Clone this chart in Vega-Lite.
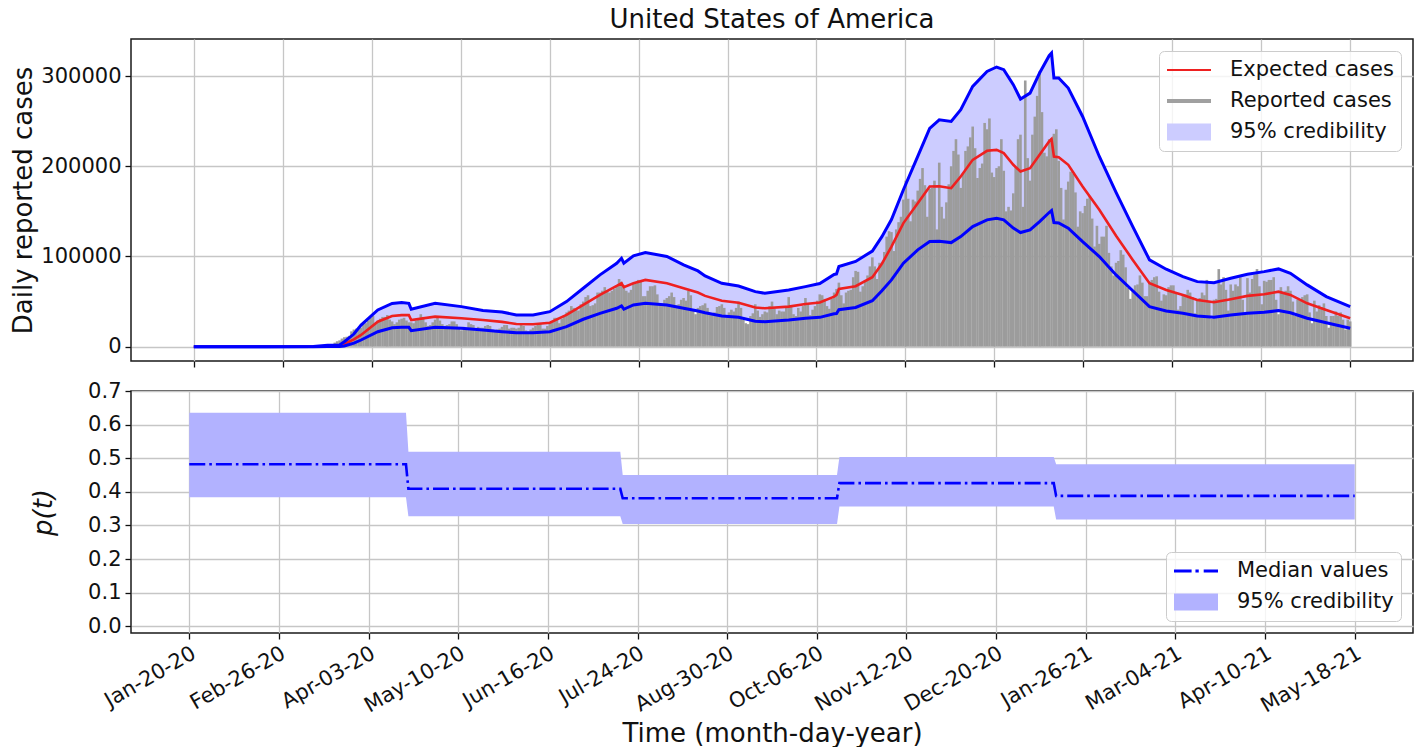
{
"$schema": "https://vega.github.io/schema/vega-lite/v6.json",
"background": "white",
"padding": {"left": 10, "top": 6, "right": 3, "bottom": 0},
"config": {
  "font": "DejaVu Sans",
  "view": {"stroke": "#1a1a1a", "strokeWidth": 1.5},
  "axis": {"labelOverlap": false},
  "title": {"font": "DejaVu Sans", "fontSize": 26, "fontWeight": "normal", "color": "#111111"}
},
"resolve": {"scale": {"color": "independent", "shape": "independent"}},
"spacing": 10,
"datasets": {
"curves": [
{"t":"2020-01-20","lo":0,"e":0,"hi":0},
{"t":"2020-02-19","lo":0,"e":0,"hi":0},
{"t":"2020-03-10","lo":0,"e":0,"hi":200},
{"t":"2020-03-16","lo":100,"e":300,"hi":1500},
{"t":"2020-03-21","lo":300,"e":1000,"hi":2000},
{"t":"2020-03-23","lo":800,"e":3000,"hi":5500},
{"t":"2020-03-27","lo":4000,"e":8000,"hi":14000},
{"t":"2020-03-30","lo":7400,"e":13000,"hi":24000},
{"t":"2020-04-06","lo":16600,"e":27700,"hi":40700},
{"t":"2020-04-12","lo":21000,"e":34000,"hi":48000},
{"t":"2020-04-16","lo":21500,"e":35000,"hi":49000},
{"t":"2020-04-19","lo":21500,"e":35000,"hi":48000},
{"t":"2020-04-20","lo":17800,"e":29600,"hi":41500},
{"t":"2020-04-30","lo":21500,"e":33300,"hi":48000},
{"t":"2020-05-11","lo":20400,"e":31500,"hi":44400},
{"t":"2020-05-20","lo":18500,"e":29600,"hi":40000},
{"t":"2020-05-28","lo":16600,"e":27500,"hi":38500},
{"t":"2020-06-03","lo":15500,"e":25200,"hi":35200},
{"t":"2020-06-10","lo":15500,"e":24800,"hi":35200},
{"t":"2020-06-17","lo":16600,"e":26600,"hi":38800},
{"t":"2020-06-24","lo":22200,"e":35200,"hi":50000},
{"t":"2020-07-01","lo":30400,"e":46300,"hi":64800},
{"t":"2020-07-08","lo":37000,"e":57400,"hi":79600},
{"t":"2020-07-15","lo":42600,"e":67300,"hi":92500},
{"t":"2020-07-17","lo":45200,"e":70300,"hi":98000},
{"t":"2020-07-18","lo":41500,"e":65900,"hi":92500},
{"t":"2020-07-22","lo":46300,"e":70300,"hi":100600},
{"t":"2020-07-27","lo":48100,"e":74000,"hi":104300},
{"t":"2020-08-05","lo":46300,"e":70300,"hi":100000},
{"t":"2020-08-12","lo":42600,"e":64800,"hi":90600},
{"t":"2020-08-18","lo":39500,"e":60000,"hi":84000},
{"t":"2020-08-21","lo":37700,"e":56300,"hi":78400},
{"t":"2020-08-28","lo":34100,"e":51000,"hi":70300},
{"t":"2020-09-04","lo":32600,"e":48800,"hi":67300},
{"t":"2020-09-11","lo":28300,"e":43500,"hi":61000},
{"t":"2020-09-15","lo":27700,"e":42600,"hi":59200},
{"t":"2020-09-25","lo":29600,"e":44400,"hi":62900},
{"t":"2020-10-02","lo":31500,"e":47400,"hi":66600},
{"t":"2020-10-08","lo":32500,"e":49000,"hi":70000},
{"t":"2020-10-14","lo":36500,"e":55500,"hi":80000},
{"t":"2020-10-15","lo":36800,"e":57400,"hi":80500},
{"t":"2020-10-16","lo":41000,"e":64000,"hi":88800},
{"t":"2020-10-23","lo":43500,"e":67000,"hi":94500},
{"t":"2020-10-30","lo":51000,"e":77000,"hi":106000},
{"t":"2020-11-03","lo":62000,"e":92000,"hi":122000},
{"t":"2020-11-07","lo":74000,"e":111000,"hi":141000},
{"t":"2020-11-12","lo":92500,"e":137000,"hi":174000},
{"t":"2020-11-18","lo":107300,"e":159000,"hi":211000},
{"t":"2020-11-23","lo":116500,"e":177500,"hi":242000},
{"t":"2020-11-27","lo":116900,"e":177800,"hi":251500},
{"t":"2020-12-02","lo":115400,"e":175700,"hi":249600},
{"t":"2020-12-06","lo":122000,"e":188600,"hi":262600},
{"t":"2020-12-11","lo":133100,"e":207100,"hi":288500},
{"t":"2020-12-17","lo":140600,"e":217100,"hi":305100},
{"t":"2020-12-21","lo":142400,"e":218200,"hi":310000},
{"t":"2020-12-24","lo":140600,"e":214600,"hi":307000},
{"t":"2020-12-28","lo":131400,"e":201600,"hi":290400},
{"t":"2020-12-31","lo":126500,"e":194200,"hi":274500},
{"t":"2021-01-04","lo":129500,"e":197900,"hi":281100},
{"t":"2021-01-08","lo":138700,"e":212700,"hi":303300},
{"t":"2021-01-12","lo":148700,"e":227500,"hi":322500},
{"t":"2021-01-13","lo":150900,"e":230100,"hi":325500},
{"t":"2021-01-14","lo":137600,"e":210800,"hi":297800},
{"t":"2021-01-16","lo":137200,"e":210000,"hi":297800},
{"t":"2021-01-20","lo":131400,"e":201600,"hi":286700},
{"t":"2021-01-26","lo":116500,"e":177500,"hi":255200},
{"t":"2021-02-02","lo":99900,"e":151700,"hi":210800},
{"t":"2021-02-09","lo":79500,"e":123000,"hi":171000},
{"t":"2021-02-16","lo":62000,"e":96200,"hi":133100},
{"t":"2021-02-23","lo":44400,"e":70300,"hi":96200},
{"t":"2021-03-02","lo":39600,"e":62900,"hi":85900},
{"t":"2021-03-09","lo":37000,"e":57400,"hi":77700},
{"t":"2021-03-15","lo":34100,"e":51800,"hi":72100},
{"t":"2021-03-22","lo":32600,"e":49300,"hi":71000},
{"t":"2021-03-29","lo":35200,"e":52600,"hi":75900},
{"t":"2021-04-05","lo":37000,"e":56300,"hi":80300},
{"t":"2021-04-12","lo":38100,"e":58100,"hi":83200},
{"t":"2021-04-18","lo":40000,"e":61000,"hi":86200},
{"t":"2021-04-23","lo":37600,"e":57400,"hi":81400},
{"t":"2021-04-30","lo":31500,"e":48100,"hi":68500},
{"t":"2021-05-08","lo":26600,"e":40700,"hi":55500},
{"t":"2021-05-18","lo":20400,"e":31500,"hi":44400}
],
"p": [
{"t":"2020-01-20","m":0.482,"lo":0.384,"hi":0.635},
{"t":"2020-04-19","m":0.482,"lo":0.384,"hi":0.635},
{"t":"2020-04-20","m":0.409,"lo":0.327,"hi":0.519},
{"t":"2020-07-17","m":0.409,"lo":0.327,"hi":0.519},
{"t":"2020-07-18","m":0.381,"lo":0.304,"hi":0.450},
{"t":"2020-10-15","m":0.381,"lo":0.304,"hi":0.450},
{"t":"2020-10-16","m":0.426,"lo":0.356,"hi":0.504},
{"t":"2021-01-13","m":0.426,"lo":0.356,"hi":0.504},
{"t":"2021-01-14","m":0.388,"lo":0.318,"hi":0.482},
{"t":"2021-05-18","m":0.388,"lo":0.318,"hi":0.482}
],
"bars": [
{"t":"2020-03-02","c":20},{"t":"2020-03-03","c":30},{"t":"2020-03-04","c":40},{"t":"2020-03-05","c":70},{"t":"2020-03-06","c":80},{"t":"2020-03-07","c":110},{"t":"2020-03-08","c":130},
{"t":"2020-03-09","c":200},{"t":"2020-03-10","c":300},{"t":"2020-03-11","c":400},{"t":"2020-03-12","c":500},{"t":"2020-03-13","c":650},{"t":"2020-03-14","c":750},{"t":"2020-03-15","c":900},
{"t":"2020-03-16","c":1500},{"t":"2020-03-17","c":1800},{"t":"2020-03-18","c":3000},{"t":"2020-03-19","c":4500},{"t":"2020-03-20","c":6000},{"t":"2020-03-21","c":7000},{"t":"2020-03-22","c":9000},
{"t":"2020-03-23","c":10500},{"t":"2020-03-24","c":11000},{"t":"2020-03-25","c":12000},{"t":"2020-03-26","c":17000},{"t":"2020-03-27","c":19000},{"t":"2020-03-28","c":20000},{"t":"2020-03-29","c":19500},
{"t":"2020-03-30","c":21000},{"t":"2020-03-31","c":25000},{"t":"2020-04-01","c":26000},{"t":"2020-04-02","c":29000},{"t":"2020-04-03","c":32000},{"t":"2020-04-04","c":34000},{"t":"2020-04-05","c":26000},
{"t":"2020-04-06","c":29000},{"t":"2020-04-07","c":31000},{"t":"2020-04-08","c":33000},{"t":"2020-04-09","c":33000},{"t":"2020-04-10","c":35000},{"t":"2020-04-11","c":30000},{"t":"2020-04-12","c":28000},
{"t":"2020-04-13","c":25000},{"t":"2020-04-14","c":27000},{"t":"2020-04-15","c":30000},{"t":"2020-04-16","c":31000},{"t":"2020-04-17","c":32000},{"t":"2020-04-18","c":29000},{"t":"2020-04-19","c":27000},
{"t":"2020-04-20","c":27000},{"t":"2020-04-21","c":26000},{"t":"2020-04-22","c":29000},{"t":"2020-04-23","c":31000},{"t":"2020-04-24","c":36000},{"t":"2020-04-25","c":33000},{"t":"2020-04-26","c":27000},
{"t":"2020-04-27","c":23000},{"t":"2020-04-28","c":24000},{"t":"2020-04-29","c":27000},{"t":"2020-04-30","c":30000},{"t":"2020-05-01","c":34000},{"t":"2020-05-02","c":29000},{"t":"2020-05-03","c":25000},
{"t":"2020-05-04","c":23000},{"t":"2020-05-05","c":24000},{"t":"2020-05-06","c":25000},{"t":"2020-05-07","c":28000},{"t":"2020-05-08","c":28000},{"t":"2020-05-09","c":25000},{"t":"2020-05-10","c":20000},
{"t":"2020-05-11","c":18000},{"t":"2020-05-12","c":22000},{"t":"2020-05-13","c":21000},{"t":"2020-05-14","c":27000},{"t":"2020-05-15","c":25000},{"t":"2020-05-16","c":24000},{"t":"2020-05-17","c":18000},
{"t":"2020-05-18","c":22000},{"t":"2020-05-19","c":21000},{"t":"2020-05-20","c":21000},{"t":"2020-05-21","c":23000},{"t":"2020-05-22","c":24000},{"t":"2020-05-23","c":23000},{"t":"2020-05-24","c":19000},
{"t":"2020-05-25","c":18000},{"t":"2020-05-26","c":19000},{"t":"2020-05-27","c":20000},{"t":"2020-05-28","c":22000},{"t":"2020-05-29","c":24000},{"t":"2020-05-30","c":24000},{"t":"2020-05-31","c":20000},
{"t":"2020-06-01","c":21000},{"t":"2020-06-02","c":21000},{"t":"2020-06-03","c":20000},{"t":"2020-06-04","c":21000},{"t":"2020-06-05","c":25000},{"t":"2020-06-06","c":23000},{"t":"2020-06-07","c":18000},
{"t":"2020-06-08","c":17000},{"t":"2020-06-09","c":19000},{"t":"2020-06-10","c":21000},{"t":"2020-06-11","c":23000},{"t":"2020-06-12","c":25000},{"t":"2020-06-13","c":25000},{"t":"2020-06-14","c":20000},
{"t":"2020-06-15","c":20000},{"t":"2020-06-16","c":23000},{"t":"2020-06-17","c":26000},{"t":"2020-06-18","c":28000},{"t":"2020-06-19","c":32000},{"t":"2020-06-20","c":32000},{"t":"2020-06-21","c":26000},
{"t":"2020-06-22","c":31000},{"t":"2020-06-23","c":35000},{"t":"2020-06-24","c":38000},{"t":"2020-06-25","c":40000},{"t":"2020-06-26","c":45000},{"t":"2020-06-27","c":43000},{"t":"2020-06-28","c":41000},
{"t":"2020-06-29","c":40000},{"t":"2020-06-30","c":47000},{"t":"2020-07-01","c":50000},{"t":"2020-07-02","c":55000},{"t":"2020-07-03","c":57000},{"t":"2020-07-04","c":45000},{"t":"2020-07-05","c":46000},
{"t":"2020-07-06","c":48000},{"t":"2020-07-07","c":60000},{"t":"2020-07-08","c":60000},{"t":"2020-07-09","c":62000},{"t":"2020-07-10","c":66000},{"t":"2020-07-11","c":62000},{"t":"2020-07-12","c":60000},
{"t":"2020-07-13","c":62000},{"t":"2020-07-14","c":64000},{"t":"2020-07-15","c":67000},{"t":"2020-07-16","c":75000},{"t":"2020-07-17","c":72000},{"t":"2020-07-18","c":65000},{"t":"2020-07-19","c":62000},
{"t":"2020-07-20","c":60000},{"t":"2020-07-21","c":63000},{"t":"2020-07-22","c":70000},{"t":"2020-07-23","c":70000},{"t":"2020-07-24","c":74000},{"t":"2020-07-25","c":72000},{"t":"2020-07-26","c":56000},
{"t":"2020-07-27","c":56000},{"t":"2020-07-28","c":62000},{"t":"2020-07-29","c":67000},{"t":"2020-07-30","c":67000},{"t":"2020-07-31","c":68000},{"t":"2020-08-01","c":58000},{"t":"2020-08-02","c":47000},
{"t":"2020-08-03","c":45000},{"t":"2020-08-04","c":52000},{"t":"2020-08-05","c":54000},{"t":"2020-08-06","c":56000},{"t":"2020-08-07","c":60000},{"t":"2020-08-08","c":55000},{"t":"2020-08-09","c":46000},
{"t":"2020-08-10","c":47000},{"t":"2020-08-11","c":52000},{"t":"2020-08-12","c":54000},{"t":"2020-08-13","c":51000},{"t":"2020-08-14","c":62000},{"t":"2020-08-15","c":57000},{"t":"2020-08-16","c":41000},
{"t":"2020-08-17","c":36000},{"t":"2020-08-18","c":43000},{"t":"2020-08-19","c":45000},{"t":"2020-08-20","c":46000},{"t":"2020-08-21","c":48000},{"t":"2020-08-22","c":43000},{"t":"2020-08-23","c":35000},
{"t":"2020-08-24","c":35000},{"t":"2020-08-25","c":38000},{"t":"2020-08-26","c":44000},{"t":"2020-08-27","c":45000},{"t":"2020-08-28","c":47000},{"t":"2020-08-29","c":43000},{"t":"2020-08-30","c":33000},
{"t":"2020-08-31","c":38000},{"t":"2020-09-01","c":41000},{"t":"2020-09-02","c":39000},{"t":"2020-09-03","c":43000},{"t":"2020-09-04","c":50000},{"t":"2020-09-05","c":43000},{"t":"2020-09-06","c":30000},
{"t":"2020-09-07","c":26000},{"t":"2020-09-08","c":25000},{"t":"2020-09-09","c":34000},{"t":"2020-09-10","c":37000},{"t":"2020-09-11","c":47000},{"t":"2020-09-12","c":40000},{"t":"2020-09-13","c":33000},
{"t":"2020-09-14","c":36000},{"t":"2020-09-15","c":39000},{"t":"2020-09-16","c":38000},{"t":"2020-09-17","c":45000},{"t":"2020-09-18","c":50000},{"t":"2020-09-19","c":42000},{"t":"2020-09-20","c":36000},
{"t":"2020-09-21","c":40000},{"t":"2020-09-22","c":39000},{"t":"2020-09-23","c":39000},{"t":"2020-09-24","c":44000},{"t":"2020-09-25","c":55000},{"t":"2020-09-26","c":45000},{"t":"2020-09-27","c":36000},
{"t":"2020-09-28","c":34000},{"t":"2020-09-29","c":43000},{"t":"2020-09-30","c":39000},{"t":"2020-10-01","c":45000},{"t":"2020-10-02","c":54000},{"t":"2020-10-03","c":48000},{"t":"2020-10-04","c":35000},
{"t":"2020-10-05","c":41000},{"t":"2020-10-06","c":45000},{"t":"2020-10-07","c":51000},{"t":"2020-10-08","c":58000},{"t":"2020-10-09","c":57000},{"t":"2020-10-10","c":53000},{"t":"2020-10-11","c":45000},
{"t":"2020-10-12","c":42000},{"t":"2020-10-13","c":53000},{"t":"2020-10-14","c":60000},{"t":"2020-10-15","c":64000},{"t":"2020-10-16","c":71000},{"t":"2020-10-17","c":57000},{"t":"2020-10-18","c":48000},
{"t":"2020-10-19","c":60000},{"t":"2020-10-20","c":62000},{"t":"2020-10-21","c":63000},{"t":"2020-10-22","c":77000},{"t":"2020-10-23","c":84000},{"t":"2020-10-24","c":83000},{"t":"2020-10-25","c":61000},
{"t":"2020-10-26","c":67000},{"t":"2020-10-27","c":74000},{"t":"2020-10-28","c":79000},{"t":"2020-10-29","c":89000},{"t":"2020-10-30","c":99000},{"t":"2020-10-31","c":89000},{"t":"2020-11-01","c":75000},
{"t":"2020-11-02","c":93000},{"t":"2020-11-03","c":91000},{"t":"2020-11-04","c":105000},{"t":"2020-11-05","c":122000},{"t":"2020-11-06","c":128000},{"t":"2020-11-07","c":127000},{"t":"2020-11-08","c":106000},
{"t":"2020-11-09","c":130000},{"t":"2020-11-10","c":138000},{"t":"2020-11-11","c":144000},{"t":"2020-11-12","c":163000},{"t":"2020-11-13","c":184000},{"t":"2020-11-14","c":164000},{"t":"2020-11-15","c":139000},
{"t":"2020-11-16","c":163000},{"t":"2020-11-17","c":161000},{"t":"2020-11-18","c":173000},{"t":"2020-11-19","c":186000},{"t":"2020-11-20","c":198000},{"t":"2020-11-21","c":179000},{"t":"2020-11-22","c":144000},
{"t":"2020-11-23","c":175000},{"t":"2020-11-24","c":176000},{"t":"2020-11-25","c":184000},{"t":"2020-11-26","c":130000},{"t":"2020-11-27","c":204000},{"t":"2020-11-28","c":155000},{"t":"2020-11-29","c":142000},
{"t":"2020-11-30","c":160000},{"t":"2020-12-01","c":180000},{"t":"2020-12-02","c":200000},{"t":"2020-12-03","c":217000},{"t":"2020-12-04","c":230000},{"t":"2020-12-05","c":213000},{"t":"2020-12-06","c":176000},
{"t":"2020-12-07","c":192000},{"t":"2020-12-08","c":217000},{"t":"2020-12-09","c":222000},{"t":"2020-12-10","c":232000},{"t":"2020-12-11","c":244000},{"t":"2020-12-12","c":220000},{"t":"2020-12-13","c":187000},
{"t":"2020-12-14","c":198000},{"t":"2020-12-15","c":203000},{"t":"2020-12-16","c":248000},{"t":"2020-12-17","c":241000},{"t":"2020-12-18","c":253000},{"t":"2020-12-19","c":193000},{"t":"2020-12-20","c":188000},
{"t":"2020-12-21","c":198000},{"t":"2020-12-22","c":200000},{"t":"2020-12-23","c":230000},{"t":"2020-12-24","c":195000},{"t":"2020-12-25","c":150000},{"t":"2020-12-26","c":155000},{"t":"2020-12-27","c":151000},
{"t":"2020-12-28","c":170000},{"t":"2020-12-29","c":199000},{"t":"2020-12-30","c":230000},{"t":"2020-12-31","c":235000},{"t":"2021-01-01","c":155000},{"t":"2021-01-02","c":295000},{"t":"2021-01-03","c":209000},
{"t":"2021-01-04","c":184000},{"t":"2021-01-05","c":235000},{"t":"2021-01-06","c":255000},{"t":"2021-01-07","c":278000},{"t":"2021-01-08","c":305000},{"t":"2021-01-09","c":260000},{"t":"2021-01-10","c":215000},
{"t":"2021-01-11","c":211000},{"t":"2021-01-12","c":230000},{"t":"2021-01-13","c":231000},{"t":"2021-01-14","c":236000},{"t":"2021-01-15","c":241000},{"t":"2021-01-16","c":206000},{"t":"2021-01-17","c":176000},
{"t":"2021-01-18","c":141000},{"t":"2021-01-19","c":174000},{"t":"2021-01-20","c":183000},{"t":"2021-01-21","c":194000},{"t":"2021-01-22","c":192000},{"t":"2021-01-23","c":171000},{"t":"2021-01-24","c":133000},
{"t":"2021-01-25","c":150000},{"t":"2021-01-26","c":148000},{"t":"2021-01-27","c":156000},{"t":"2021-01-28","c":164000},{"t":"2021-01-29","c":167000},{"t":"2021-01-30","c":142000},{"t":"2021-01-31","c":111000},
{"t":"2021-02-01","c":134000},{"t":"2021-02-02","c":114000},{"t":"2021-02-03","c":122000},{"t":"2021-02-04","c":122000},{"t":"2021-02-05","c":134000},{"t":"2021-02-06","c":104000},{"t":"2021-02-07","c":89000},
{"t":"2021-02-08","c":79000},{"t":"2021-02-09","c":93000},{"t":"2021-02-10","c":95000},{"t":"2021-02-11","c":107000},{"t":"2021-02-12","c":102000},{"t":"2021-02-13","c":88000},{"t":"2021-02-14","c":65000},
{"t":"2021-02-15","c":53000},{"t":"2021-02-16","c":62000},{"t":"2021-02-17","c":68000},{"t":"2021-02-18","c":69000},{"t":"2021-02-19","c":79000},{"t":"2021-02-20","c":71000},{"t":"2021-02-21","c":56000},
{"t":"2021-02-22","c":56000},{"t":"2021-02-23","c":72000},{"t":"2021-02-24","c":74000},{"t":"2021-02-25","c":77000},{"t":"2021-02-26","c":78000},{"t":"2021-02-27","c":61000},{"t":"2021-02-28","c":51000},
{"t":"2021-03-01","c":58000},{"t":"2021-03-02","c":57000},{"t":"2021-03-03","c":66000},{"t":"2021-03-04","c":68000},{"t":"2021-03-05","c":68000},{"t":"2021-03-06","c":59000},{"t":"2021-03-07","c":41000},
{"t":"2021-03-08","c":45000},{"t":"2021-03-09","c":57000},{"t":"2021-03-10","c":58000},{"t":"2021-03-11","c":63000},{"t":"2021-03-12","c":60000},{"t":"2021-03-13","c":55000},{"t":"2021-03-14","c":37000},
{"t":"2021-03-15","c":53000},{"t":"2021-03-16","c":54000},{"t":"2021-03-17","c":60000},{"t":"2021-03-18","c":57000},{"t":"2021-03-19","c":74000},{"t":"2021-03-20","c":50000},{"t":"2021-03-21","c":31000},
{"t":"2021-03-22","c":52000},{"t":"2021-03-23","c":53000},{"t":"2021-03-24","c":86000},{"t":"2021-03-25","c":69000},{"t":"2021-03-26","c":77000},{"t":"2021-03-27","c":63000},{"t":"2021-03-28","c":40000},
{"t":"2021-03-29","c":69000},{"t":"2021-03-30","c":62000},{"t":"2021-03-31","c":69000},{"t":"2021-04-01","c":67000},{"t":"2021-04-02","c":77000},{"t":"2021-04-03","c":52000},{"t":"2021-04-04","c":36000},
{"t":"2021-04-05","c":76000},{"t":"2021-04-06","c":60000},{"t":"2021-04-07","c":75000},{"t":"2021-04-08","c":80000},{"t":"2021-04-09","c":86000},{"t":"2021-04-10","c":67000},{"t":"2021-04-11","c":47000},
{"t":"2021-04-12","c":73000},{"t":"2021-04-13","c":72000},{"t":"2021-04-14","c":74000},{"t":"2021-04-15","c":74000},{"t":"2021-04-16","c":77000},{"t":"2021-04-17","c":52000},{"t":"2021-04-18","c":36000},
{"t":"2021-04-19","c":66000},{"t":"2021-04-20","c":61000},{"t":"2021-04-21","c":62000},{"t":"2021-04-22","c":67000},{"t":"2021-04-23","c":62000},{"t":"2021-04-24","c":50000},{"t":"2021-04-25","c":34000},
{"t":"2021-04-26","c":52000},{"t":"2021-04-27","c":51000},{"t":"2021-04-28","c":55000},{"t":"2021-04-29","c":57000},{"t":"2021-04-30","c":58000},{"t":"2021-05-01","c":38000},{"t":"2021-05-02","c":26000},
{"t":"2021-05-03","c":51000},{"t":"2021-05-04","c":39000},{"t":"2021-05-05","c":46000},{"t":"2021-05-06","c":44000},{"t":"2021-05-07","c":48000},{"t":"2021-05-08","c":34000},{"t":"2021-05-09","c":21000},
{"t":"2021-05-10","c":34000},{"t":"2021-05-11","c":34000},{"t":"2021-05-12","c":39000},{"t":"2021-05-13","c":34000},{"t":"2021-05-14","c":38000},{"t":"2021-05-15","c":30000},{"t":"2021-05-16","c":19000},
{"t":"2021-05-17","c":30000},{"t":"2021-05-18","c":28000}
]
},
"vconcat": [
{
  "width": 1282, "height": 322,
  "title": {"text": "United States of America", "frame": "group", "anchor": "middle", "offset": 6},
  "layer": [
    {"data": {"name": "curves"}, "mark": {"type": "area", "opacity": 1, "color": "#ccccff"},
     "encoding": {
       "x": {"field": "t", "type": "temporal", "scale": {"type": "utc", "domain": [1577387520000, 1623386880000]},
             "axis": {"values": [1579478400000,1582695138462,1585911876923,1589128615385,1592345353846,1595562092308,1598778830769,1601995569231,1605212307692,1608429046154,1611645784615,1614862523077,1618079261538,1621296000000], "labels": false, "title": null, "grid": true, "gridColor": "#c6c6c6", "gridWidth": 1.3, "domain": false, "ticks": true, "tickSize": 6, "tickWidth": 1.3, "tickColor": "#111111"}},
       "y": {"field": "lo", "type": "quantitative", "scale": {"domain": [-15865, 341050], "nice": false, "zero": false},
             "axis": {"values": [0, 100000, 200000, 300000], "format": "d", "labelFontSize": 21, "labelFont": "DejaVu Sans", "labelColor": "#111111", "labelOverlap": false, "labelPadding": 4, "domain": false, "tickSize": 6, "tickWidth": 1.3, "tickColor": "#111111", "gridColor": "#c6c6c6", "gridWidth": 1.3,
               "title": "Daily reported cases", "titleFont": "DejaVu Sans", "titleFontSize": 26, "titleFontWeight": "normal", "titleColor": "#111111", "titlePadding": 4, "grid": true}},
       "y2": {"field": "hi"}
     }},
    {"data": {"name": "bars"}, "mark": {"type": "bar", "size": 2.6, "opacity": 1, "color": "#9c9c9c"},
     "encoding": {"x": {"field": "t", "type": "temporal"}, "y": {"field": "c", "type": "quantitative"}}},
    {"data": {"name": "curves"}, "mark": {"type": "line", "strokeWidth": 2.6, "color": "#ee2020"},
     "encoding": {"x": {"field": "t", "type": "temporal"}, "y": {"field": "e", "type": "quantitative"}}},
    {"data": {"name": "curves"}, "mark": {"type": "line", "strokeWidth": 3, "color": "#0000ff"},
     "encoding": {"x": {"field": "t", "type": "temporal"}, "y": {"field": "hi", "type": "quantitative"}}},
    {"data": {"name": "curves"}, "mark": {"type": "line", "strokeWidth": 3, "color": "#0000ff"},
     "encoding": {"x": {"field": "t", "type": "temporal"}, "y": {"field": "lo", "type": "quantitative"}}},
    {"data": {"name": "curves"}, "mark": {"type": "point", "filled": true, "opacity": 0},
     "encoding": {"x": {"field": "t", "type": "temporal"}, "y": {"field": "e", "type": "quantitative"},
       "color": {"datum": "95% credibility", "type": "nominal",
         "scale": {"domain": ["Expected cases", "Reported cases", "95% credibility"], "range": ["#ee2020", "#a0a0a0", "#ccccff"]},
         "legend": {"title": null, "orient": "top-right", "offset": 12, "symbolSize": 484, "symbolOpacity": 1, "labelOffset": 40, "rowPadding": 9, "padding": 7,
           "labelFontSize": 21, "labelFont": "DejaVu Sans", "labelColor": "#111111", "labelLimit": 400,
           "fillColor": "rgba(255,255,255,0.8)", "strokeColor": "#cccccc", "cornerRadius": 5}},
       "shape": {"datum": "95% credibility", "type": "nominal",
         "scale": {"domain": ["Expected cases", "Reported cases", "95% credibility"], "range": ["M-1,-0.1H3V0.1H-1Z", "M-1,-0.19H3V0.19H-1Z", "M-1,-0.77H3V0.77H-1Z"]},
         "legend": {"title": null, "orient": "top-right", "offset": 12, "symbolSize": 484, "symbolOpacity": 1, "labelOffset": 40, "rowPadding": 9, "padding": 7,
           "labelFontSize": 21, "labelFont": "DejaVu Sans", "labelColor": "#111111", "labelLimit": 400,
           "fillColor": "rgba(255,255,255,0.8)", "strokeColor": "#cccccc", "cornerRadius": 5}}
     }}
  ]
},
{
  "width": 1282, "height": 242,
  "layer": [
    {"data": {"name": "p"}, "mark": {"type": "area", "opacity": 1, "color": "#b2b2ff"},
     "encoding": {
       "x": {"field": "t", "type": "temporal", "scale": {"type": "utc", "domain": [1577387520000, 1623386880000]},
             "axis": {"values": [1579478400000,1582695138462,1585911876923,1589128615385,1592345353846,1595562092308,1598778830769,1601995569231,1605212307692,1608429046154,1611645784615,1614862523077,1618079261538,1621296000000],
               "labelExpr": "utcFormat(datum.value, '%b-%d-%y')", "labelFontSize": 21, "labelFont": "DejaVu Sans", "labelColor": "#111111", "labelAngle": -30, "labelAlign": "right", "labelBaseline": "top", "labelOverlap": false, "labelFlush": false, "labelPadding": 3, "labelOffset": -1,
               "domain": false, "tickSize": 6, "tickWidth": 1.3, "tickColor": "#111111", "gridColor": "#c6c6c6", "gridWidth": 1.3,
               "title": "Time (month-day-year)", "titleFont": "DejaVu Sans", "titleFontSize": 26, "titleFontWeight": "normal", "titleColor": "#111111", "titlePadding": 4, "grid": true}},
       "y": {"field": "lo", "type": "quantitative", "scale": {"domain": [-0.02, 0.7], "nice": false, "zero": false},
             "axis": {"tickCount": 8, "labelExpr": "format(abs(datum.value), '.1f')", "labelFontSize": 21, "labelFont": "DejaVu Sans", "labelColor": "#111111", "labelOverlap": false, "labelSeparation": 0, "labelPadding": 4,
               "domain": false, "tickSize": 6, "tickWidth": 1.3, "tickColor": "#111111", "gridColor": "#c6c6c6", "gridWidth": 1.3,
               "title": "p(t)", "titleFont": "DejaVu Sans", "titleFontSize": 26, "titleFontWeight": "normal", "titleColor": "#111111", "titleFontStyle": "italic", "titlePadding": 31, "grid": true}},
       "y2": {"field": "hi"}
     }},
    {"data": {"name": "p"}, "mark": {"type": "line", "strokeWidth": 2.6, "strokeDash": [16, 4, 2.6, 4], "color": "#0000ff"},
     "encoding": {"x": {"field": "t", "type": "temporal"}, "y": {"field": "m", "type": "quantitative"}}},
    {"data": {"name": "p"}, "mark": {"type": "point", "filled": true, "opacity": 0},
     "encoding": {"x": {"field": "t", "type": "temporal"}, "y": {"field": "m", "type": "quantitative"},
       "color": {"datum": "95% credibility", "type": "nominal",
         "scale": {"domain": ["Median values", "95% credibility"], "range": ["#0000ff", "#b2b2ff"]},
         "legend": {"title": null, "orient": "bottom-right", "offset": 12, "symbolSize": 484, "symbolOpacity": 1, "labelOffset": 40, "rowPadding": 9, "padding": 7,
           "labelFontSize": 21, "labelFont": "DejaVu Sans", "labelColor": "#111111", "labelLimit": 400,
           "fillColor": "rgba(255,255,255,0.8)", "strokeColor": "#cccccc", "cornerRadius": 5}},
       "shape": {"datum": "95% credibility", "type": "nominal",
         "scale": {"domain": ["Median values", "95% credibility"], "range": ["M-1,-0.13H0.6V0.13H-1Z M0.95,-0.13H1.25V0.13H0.95Z M1.7,-0.13H3V0.13H1.7Z", "M-1,-0.77H3V0.77H-1Z"]},
         "legend": {"title": null, "orient": "bottom-right", "offset": 12, "symbolSize": 484, "symbolOpacity": 1, "labelOffset": 40, "rowPadding": 9, "padding": 7,
           "labelFontSize": 21, "labelFont": "DejaVu Sans", "labelColor": "#111111", "labelLimit": 400,
           "fillColor": "rgba(255,255,255,0.8)", "strokeColor": "#cccccc", "cornerRadius": 5}}
     }}
  ]
}
]
}
